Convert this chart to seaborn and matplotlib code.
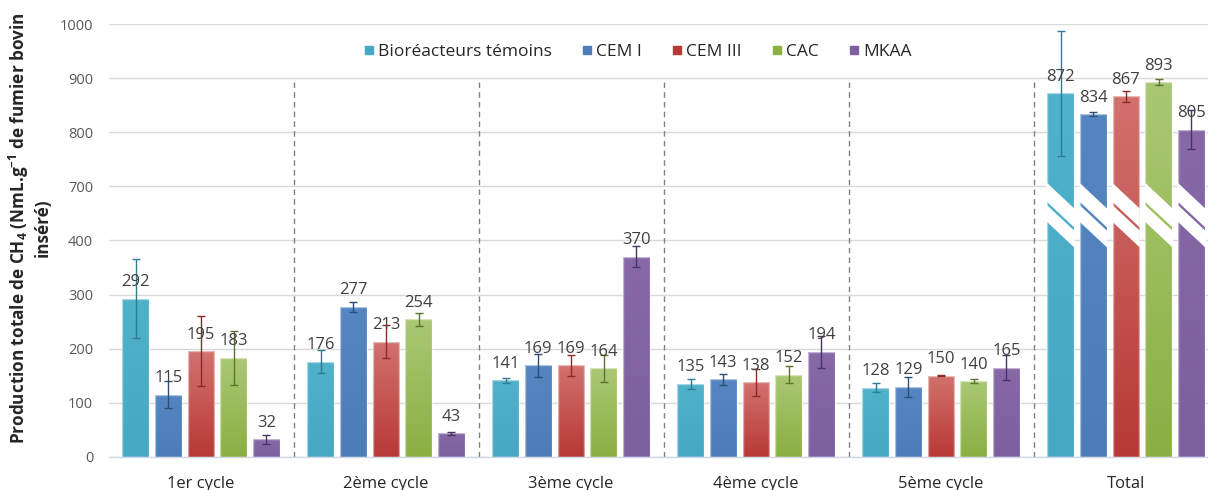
import numpy as np
import pandas as pd
import matplotlib
matplotlib.use("Agg")
import matplotlib.pyplot as plt
from matplotlib.colors import to_rgb
from matplotlib.lines import Line2D
from matplotlib.patches import Polygon
import seaborn as sns

# ---- data -------------------------------------------------------------
cycles = ["1er cycle", "2ème cycle", "3ème cycle", "4ème cycle", "5ème cycle", "Total"]
series = ["Bioréacteurs témoins", "CEM I", "CEM III", "CAC", "MKAA"]

temoins = [292, 176, 141, 135, 128, 872]
cem1 = [115, 277, 169, 143, 129, 834]
cem3 = [195, 213, 169, 138, 150, 867]
cac = [183, 254, 164, 152, 140, 893]
mkaa = [32, 43, 370, 194, 165, 805]

err_temoins = [73, 22, 4, 9, 9, 116]
err_cem1 = [25, 10, 21, 10, 19, 4]
err_cem3 = [65, 30, 20, 25, 1, 10]
err_cac = [50, 12, 25, 16, 4, 6]
err_mkaa = [9, 3, 19, 29, 24, 36]

y_ticks = [0, 100, 200, 300, 400, 700, 800, 900, 1000]

values = [temoins, cem1, cem3, cac, mkaa]
errors = [err_temoins, err_cem1, err_cem3, err_cac, err_mkaa]

# ---- style ------------------------------------------------------------
bar_top = ["#4FB1CA", "#5686C2", "#D2726E", "#AAC874", "#8769A8"]
bar_bottom = ["#46A8C2", "#4C7DB9", "#B73936", "#8BAF42", "#7C5F9F"]
err_colors = ["#2E7D93", "#2B4D78", "#8A2B28", "#5A7431", "#4A3365"]

sns.set_theme(style="white")
plt.rcParams["font.family"] = ["Open Sans", "DejaVu Sans"]
plt.rcParams["mathtext.fontset"] = "custom"
plt.rcParams["mathtext.rm"] = "Open Sans"
plt.rcParams["mathtext.bf"] = "Open Sans:bold"


# broken value axis: 400 -> 700 is squeezed into one tick interval
def fwd(v):
    v = np.asarray(v, dtype=float)
    return np.where(v <= 400, v, np.where(v >= 700, v - 200, 400 + (v - 400) / 3.0))


def inv(d):
    d = np.asarray(d, dtype=float)
    return np.where(d <= 400, d, np.where(d >= 500, d + 200, 400 + (d - 400) * 3.0))


df = pd.DataFrame(
    [(c, s, v) for s, vals in zip(series, values) for c, v in zip(cycles, vals)],
    columns=["cycle", "series", "value"],
)

fig = plt.figure(figsize=(12.08, 4.9), dpi=100)
ax = fig.add_axes([108.5 / 1208, 1 - 456.7 / 490, 1110 / 1208, 432.4 / 490])

sns.barplot(
    data=df, x="cycle", y="value", hue="series",
    order=cycles, hue_order=series, palette=bar_bottom,
    width=0.885, gap=0.19, errorbar=None, legend=False, ax=ax,
)
bar_containers = list(ax.containers)

ax.set_yscale("function", functions=(fwd, inv))
ax.set_xlim(-0.5, len(cycles) - 0.5)
ax.set_ylim(0, 1000)
ax.set_yticks(y_ticks)
ax.set_yticklabels([str(t) for t in y_ticks])
ax.yaxis.grid(True, color="#D9D9D9", lw=1)
ax.xaxis.grid(False)
ax.set_axisbelow(True)

# transform working in already-scaled (display-axis) units
scaled = ax.transLimits + ax.transAxes

for k, cont in enumerate(bar_containers):
    top = np.array(to_rgb(bar_top[k]))
    bot = np.array(to_rgb(bar_bottom[k]))
    g = np.linspace(0, 1, 256)[:, None, None]
    img = top * (1 - g) + bot * g
    centers = []
    for p in cont:
        x0, w, h = p.get_x(), p.get_width(), p.get_height()
        centers.append(x0 + w / 2)
        im = ax.imshow(img, extent=[x0, x0 + w, 0, float(fwd(h))], transform=scaled,
                       aspect="auto", origin="upper", interpolation="bilinear", zorder=2)
        im.set_clip_path(p)
        p.set_facecolor("none")
        p.set_edgecolor((1, 1, 1, 0.5))
        p.set_linewidth(1)
        p.set_zorder(3)

    ax.errorbar(centers, values[k], yerr=errors[k], fmt="none", ecolor=err_colors[k],
                elinewidth=1, capsize=3.2, capthick=1, zorder=5)
    for cx, v in zip(centers, values[k]):
        ax.annotate(f"{v}", xy=(cx, v), xytext=(0, 9), textcoords="offset points",
                    ha="center", va="baseline", fontsize=12, color="#404040", zorder=6)

    # axis-break stripes across the Total bars
    p = cont[len(cycles) - 1]
    x0, w = p.get_x(), p.get_width()
    drop, e = 46.0, 0.003
    for ytop, ybot in [(506, 471), (465, 434)]:
        xs = [x0 - e, x0 + w + e]
        yt = [ytop - drop * (x - x0) / w for x in xs]
        yb = [ybot - drop * (x - x0) / w for x in xs]
        band = Polygon([(xs[0], yt[0]), (xs[1], yt[1]), (xs[1], yb[1]), (xs[0], yb[0])],
                       closed=True, facecolor="white", edgecolor="none",
                       transform=scaled, zorder=4)
        ax.add_patch(band)

ax.set_xlim(-0.5, len(cycles) - 0.5)
ax.set_ylim(0, 1000)

# dashed separators between groups
ax.vlines(np.arange(len(cycles) - 1) + 0.5, 0, 900, colors="#808080",
          linestyles=(0, (4, 3)), lw=1, zorder=1)

for side in ["left", "top", "right"]:
    ax.spines[side].set_visible(False)
ax.spines["bottom"].set_color("#D0D8E8")
ax.spines["bottom"].set_linewidth(1)

ax.tick_params(axis="y", length=0, pad=11, labelsize=10.5, labelcolor="#595959")
ax.tick_params(axis="x", length=0, pad=14, labelsize=12, labelcolor="#262626")
ax.set_xlabel("")
ax.set_ylabel("Production totale de CH$_\\mathbf{4}$ (NmL.g$^\\mathbf{-1}$ de fumier bovin\ninséré)",
              fontsize=12.3, fontweight="bold", color="#262626", linespacing=1.2)
ax.yaxis.set_label_coords(-0.051, 0.529)

handles = [Line2D([], [], marker="s", linestyle="none", markersize=6.2,
                  markerfacecolor=c, markeredgecolor=c) for c in bar_bottom]
fig.legend(handles, series, loc="center", bbox_to_anchor=(637.5 / 1208, 1 - 52 / 490),
           bbox_transform=fig.transFigure, ncol=5, frameon=False, fontsize=12.5,
           handletextpad=0.25, columnspacing=1.7, handlelength=0.6,
           labelcolor="#262626")

fig.savefig("out.png", dpi=100)
